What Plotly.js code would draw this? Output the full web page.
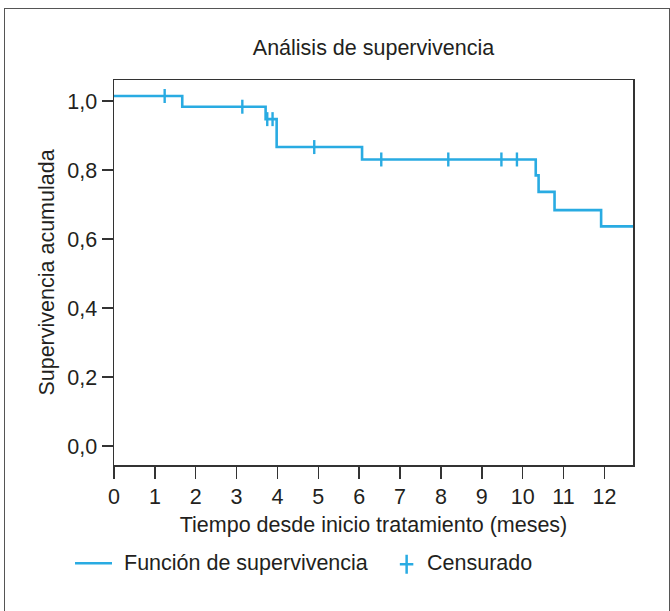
<!DOCTYPE html>
<html>
<head>
<meta charset="utf-8">
<script src="https://cdn.plot.ly/plotly-3.0.1.min.js"></script>
<style>
  html, body { margin: 0; padding: 0; background: #fff; }
  #wrap { position: relative; width: 670px; height: 611px; overflow: hidden; }
  #frame { position: absolute; left: 4px; top: 8px; width: 664px; height: 700px;
           border: 1.5px solid #555; border-bottom: none; pointer-events: none; }
</style>
</head>
<body>
<div id="wrap">
  <div id="chart" style="width:670px;height:611px;"></div>
  <div id="frame"></div>
</div>
<script>
// Kaplan-Meier step curve (time in months, cumulative survival)
var stepTimes    = [0, 1.67, 3.71, 3.98, 6.07, 10.32, 10.39, 10.78, 11.92, 12.70];
var stepSurvival = [1.015, 0.984, 0.948, 0.867, 0.831, 0.785, 0.737, 0.684, 0.637, 0.637];

// Censored observations
var censorTimes    = [1.24, 3.14, 3.75, 3.88, 4.90, 6.54, 8.18, 9.48, 9.86];
var censorSurvival = [1.015, 0.984, 0.948, 0.948, 0.867, 0.831, 0.831, 0.831, 0.831];

var xTicks = [0,1,2,3,4,5,6,7,8,9,10,11,12];
var yTicks = [0, 0.2, 0.4, 0.6, 0.8, 1.0];
var yTickText = ['0,0','0,2','0,4','0,6','0,8','1,0'];

var blue = '#29abe2';
var ink = '#231f20';
var fontFam = '"Liberation Sans", Arial, Helvetica, sans-serif';
var fs = 21.5;

// plot area geometry (px)
var L = 114, R = 633.3, T = 79.5, B = 464.7, W = 670, H = 611;
var pw = R - L, ph = B - T;
function px2x(p){ return (p - L) / pw; }
function px2y(p){ return (B - p) / ph; }

var traces = [
  {
    x: stepTimes, y: stepSurvival, type: 'scatter', mode: 'lines',
    line: {shape: 'hv', color: blue, width: 2.6},
    showlegend: false, hoverinfo: 'skip', cliponaxis: false
  },
  {
    x: censorTimes, y: censorSurvival, type: 'scatter', mode: 'markers',
    marker: {symbol: 'line-ns-open', size: 10, color: blue, line: {color: blue, width: 2.4}},
    showlegend: false, hoverinfo: 'skip', cliponaxis: false
  }
];

var legY = 563;
var layout = {
  width: W, height: H,
  margin: {l: L, r: W - R, t: T, b: H - B, pad: 0},
  paper_bgcolor: '#fff', plot_bgcolor: '#fff',
  font: {family: fontFam, color: ink, size: fs},
  showlegend: false,
  title: {
    text: 'Análisis de supervivencia',
    font: {family: fontFam, size: fs, color: ink},
    x: 0.5, xref: 'paper', y: 1 - 47 / H, yref: 'container', yanchor: 'middle'
  },
  xaxis: {
    range: [0, 12.70], tickvals: xTicks, ticks: 'outside', ticklen: 12, tickwidth: 1.5,
    tickcolor: '#333', showline: true, linecolor: '#333', linewidth: 1.5, mirror: true,
    showgrid: false, zeroline: false, tickfont: {size: fs, color: ink},
    title: {text: 'Tiempo desde inicio tratamiento (meses)', font: {size: fs, color: ink}, standoff: 8}
  },
  yaxis: {
    range: [-0.055, 1.0615], tickvals: yTicks, ticktext: yTickText, ticks: 'outside', ticklen: 11,
    tickwidth: 1.5, tickcolor: '#333', showline: true, linecolor: '#333', linewidth: 1.5, mirror: true,
    showgrid: false, zeroline: false, tickfont: {size: fs, color: ink},
    title: {text: 'Supervivencia acumulada', font: {size: fs, color: ink}, standoff: 7}
  },
  shapes: [
    {type: 'line', xref: 'paper', yref: 'paper', x0: px2x(75), x1: px2x(112), y0: px2y(legY), y1: px2y(legY),
     line: {color: blue, width: 2.6}},
    {type: 'line', xref: 'paper', yref: 'paper', x0: px2x(400), x1: px2x(413.5), y0: px2y(564), y1: px2y(564),
     line: {color: blue, width: 2.5}},
    {type: 'line', xref: 'paper', yref: 'paper', x0: px2x(406.8), x1: px2x(406.8), y0: px2y(554.5), y1: px2y(573.5),
     line: {color: blue, width: 2.5}}
  ],
  annotations: [
    {text: 'Función de supervivencia', xref: 'paper', yref: 'paper', x: px2x(122), y: px2y(legY),
     xanchor: 'left', yanchor: 'middle', showarrow: false, font: {size: fs, color: ink}},
    {text: 'Censurado', xref: 'paper', yref: 'paper', x: px2x(425), y: px2y(legY),
     xanchor: 'left', yanchor: 'middle', showarrow: false, font: {size: fs, color: ink}}
  ]
};

Plotly.newPlot('chart', traces, layout, {displayModeBar: false, staticPlot: true});
</script>
</body>
</html>
